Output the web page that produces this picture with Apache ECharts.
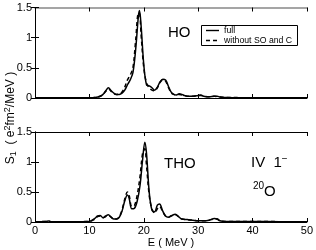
<!DOCTYPE html>
<html><head><meta charset="utf-8">
<script src="https://cdn.jsdelivr.net/npm/echarts@6/dist/echarts.min.js"></script>
<style>html,body{margin:0;padding:0;background:#fff}#c{width:316px;height:250px}</style>
</head><body><div id="c"></div>
<script>
// Energies (MeV) and strengths, top panel (HO)
const hoE      = [0, 5, 10, 11, 12, 12.5, 13, 13.5, 14, 14.5, 15, 15.5, 16, 16.5, 17, 17.5, 18, 18.5, 19, 19.2, 19.5, 20, 20.5, 21, 21.5, 22, 22.5, 23, 23.5, 24, 24.5, 25, 25.5, 26, 26.5, 27, 27.5, 28, 29, 30, 30.5, 31, 32, 33, 33.5, 34, 35, 40, 45, 50];
const hoFull   = [0.003, 0.003, 0.005, 0.01, 0.03, 0.06, 0.12, 0.17, 0.12, 0.08, 0.06, 0.06, 0.08, 0.13, 0.22, 0.3, 0.42, 0.8, 1.35, 1.45, 1.2, 0.55, 0.22, 0.2, 0.17, 0.13, 0.18, 0.27, 0.31, 0.3, 0.2, 0.1, 0.06, 0.05, 0.07, 0.06, 0.04, 0.03, 0.03, 0.04, 0.05, 0.03, 0.02, 0.03, 0.03, 0.015, 0.01, 0.005, 0.005, 0.005];
const hoNoSOC  = [0.003, 0.003, 0.005, 0.01, 0.03, 0.06, 0.11, 0.15, 0.11, 0.07, 0.06, 0.07, 0.1, 0.18, 0.3, 0.38, 0.5, 0.95, 1.4, 1.4, 1.05, 0.5, 0.25, 0.17, 0.13, 0.12, 0.17, 0.26, 0.3, 0.28, 0.18, 0.09, 0.06, 0.05, 0.06, 0.05, 0.04, 0.03, 0.03, 0.04, 0.04, 0.03, 0.02, 0.03, 0.02, 0.015, 0.01, 0.005, 0.005, 0.005];
// Bottom panel (THO)
const thoE     = [0, 2, 2.5, 3, 5, 10, 11, 11.5, 12, 12.5, 13, 13.5, 14, 14.5, 15, 15.5, 16, 16.5, 17, 17.3, 17.8, 18.3, 18.8, 19.3, 19.8, 20.2, 20.5, 21, 21.5, 22, 22.5, 22.9, 23.5, 24, 24.5, 25, 25.8, 26.5, 27, 28, 29, 30, 31, 32, 33, 33.5, 34, 35, 40, 45, 50];
const thoFull  = [0.003, 0.01, 0.015, 0.005, 0.003, 0.01, 0.06, 0.1, 0.11, 0.07, 0.1, 0.12, 0.08, 0.05, 0.05, 0.08, 0.18, 0.35, 0.45, 0.4, 0.22, 0.23, 0.35, 0.6, 1.05, 1.33, 1.15, 0.5, 0.2, 0.17, 0.28, 0.3, 0.18, 0.1, 0.08, 0.1, 0.13, 0.08, 0.05, 0.04, 0.03, 0.02, 0.02, 0.03, 0.06, 0.05, 0.02, 0.01, 0.01, 0.006, 0.005];
const thoNoSOC = [0.003, 0.01, 0.015, 0.005, 0.003, 0.01, 0.05, 0.09, 0.1, 0.07, 0.09, 0.11, 0.08, 0.05, 0.05, 0.09, 0.2, 0.38, 0.5, 0.45, 0.26, 0.28, 0.45, 0.75, 1.15, 1.22, 0.95, 0.45, 0.22, 0.15, 0.22, 0.26, 0.17, 0.1, 0.08, 0.1, 0.12, 0.08, 0.05, 0.04, 0.03, 0.02, 0.02, 0.03, 0.05, 0.05, 0.02, 0.01, 0.01, 0.006, 0.005];
const xTicks = [0, 10, 20, 30, 40, 50];
const yTicks = [0, 0.5, 1, 1.5];
const seriesNames = ['full', 'without SO and C'];

const font = 'Liberation Sans, Arial, Helvetica, sans-serif';
const pairs = (xs, ys) => xs.map((x, i) => [x, ys[i]]);
const grids = [
  {left: 35, right: 9, top: 7.5, height: 90.5},
  {left: 35, right: 9, top: 132, height: 90}
];
function xA(gi, pos, labels, lineColor, lw) {
  return {type: 'value', gridIndex: gi, position: pos, min: xTicks[0], max: xTicks[xTicks.length - 1], interval: 10,
    axisLine: {show: true, onZero: false, lineStyle: {color: lineColor || '#000', width: lw || 1}},
    axisTick: {show: true, inside: true, length: 4, lineStyle: {color: '#000'}},
    axisLabel: {show: labels, color: '#000', fontFamily: font, fontSize: 11, margin: 3},
    splitLine: {show: false}};
}
function yA(gi, pos, labels) {
  return {type: 'value', gridIndex: gi, position: pos, min: yTicks[0], max: yTicks[yTicks.length - 1], interval: 0.5,
    axisLine: {show: true, lineStyle: {color: '#000', width: 1}},
    axisTick: {show: true, inside: true, length: 4, lineStyle: {color: '#000'}},
    axisLabel: {show: labels, color: '#000', fontFamily: font, fontSize: 11, margin: 3},
    splitLine: {show: false}};
}
const line = (name, xi, yi, data, dashed) => ({
  name, type: 'line', xAxisIndex: xi, yAxisIndex: yi, data, symbol: 'none', smooth: 0.35,
  lineStyle: {color: '#000', width: 1.5, type: dashed ? [4, 3] : 'solid'}, z: dashed ? 3 : 4
});
const chart = echarts.init(document.getElementById('c'), null, {renderer: 'canvas'});
chart.setOption({
  animation: false,
  backgroundColor: '#fff',
  grid: grids,
  xAxis: [xA(0, 'bottom', false), xA(0, 'top', false, '#888', 1.5), xA(1, 'bottom', true), xA(1, 'top', false)],
  yAxis: [yA(0, 'left', true), yA(0, 'right', false), yA(1, 'left', true), yA(1, 'right', false)],
  series: [
    line(seriesNames[1], 0, 0, pairs(hoE, hoNoSOC), true),
    line(seriesNames[0], 0, 0, pairs(hoE, hoFull), false),
    line(seriesNames[1], 2, 2, pairs(thoE, thoNoSOC), true),
    line(seriesNames[0], 2, 2, pairs(thoE, thoFull), false)
  ],
  graphic: [
    {type: 'text', left: 168, top: 25, style: {text: 'HO', font: '15px ' + font, fill: '#000'}},
    {type: 'rect', shape: {x: 201.5, y: 25.5, width: 96, height: 20}, style: {fill: '#fff', stroke: '#000', lineWidth: 1}, z: 10},
    {type: 'line', shape: {x1: 206, y1: 30.5, x2: 219, y2: 30.5}, style: {stroke: '#000', lineWidth: 1.4}, z: 11},
    {type: 'line', shape: {x1: 206, y1: 40.5, x2: 219, y2: 40.5}, style: {stroke: '#000', lineWidth: 1.4, lineDash: [4, 3]}, z: 11},
    {type: 'text', x: 224, y: 30.5, style: {text: seriesNames[0], font: '8.7px ' + font, fill: '#000', verticalAlign: 'middle'}, z: 11},
    {type: 'text', x: 224, y: 40.5, style: {text: seriesNames[1], font: '8.7px ' + font, fill: '#000', verticalAlign: 'middle'}, z: 11},
    {type: 'text', left: 164, top: 156, style: {text: 'THO', font: '15px ' + font, fill: '#000'}},
    {type: 'text', left: 251, top: 154, style: {rich: {n: {font: '15px ' + font, fill: '#000'}, s: {font: '10px ' + font, fill: '#000', verticalAlign: 'top', padding: [0, 0, 8, 0]}}, text: '{n|IV  1}{s|−}'}},
    {type: 'text', left: 253, top: 181, style: {rich: {s: {font: '10px ' + font, fill: '#000', padding: [0, 0, 8, 0]}, n: {font: '15px ' + font, fill: '#000', verticalAlign: 'bottom'}}, text: '{s|20}{n|O}'}},
    {type: 'text', x: 171, y: 243, style: {text: 'E ( MeV )', font: '11px ' + font, fill: '#000', align: 'center', verticalAlign: 'middle'}},
    {type: 'text', x: 11, y: 118, rotation: Math.PI / 2, style: {align: 'center', verticalAlign: 'middle',
      rich: {n: {font: '12px ' + font, fill: '#000'}, b: {font: '9px ' + font, fill: '#000', padding: [6, 0, 0, 0]}, p: {font: '9px ' + font, fill: '#000', padding: [0, 0, 6, 0]}},
      text: '{n|S}{b|1}{n|  ( e}{p|2}{n|fm}{p|2}{n|/MeV )}'}}
  ]
});
</script>
</body></html>
